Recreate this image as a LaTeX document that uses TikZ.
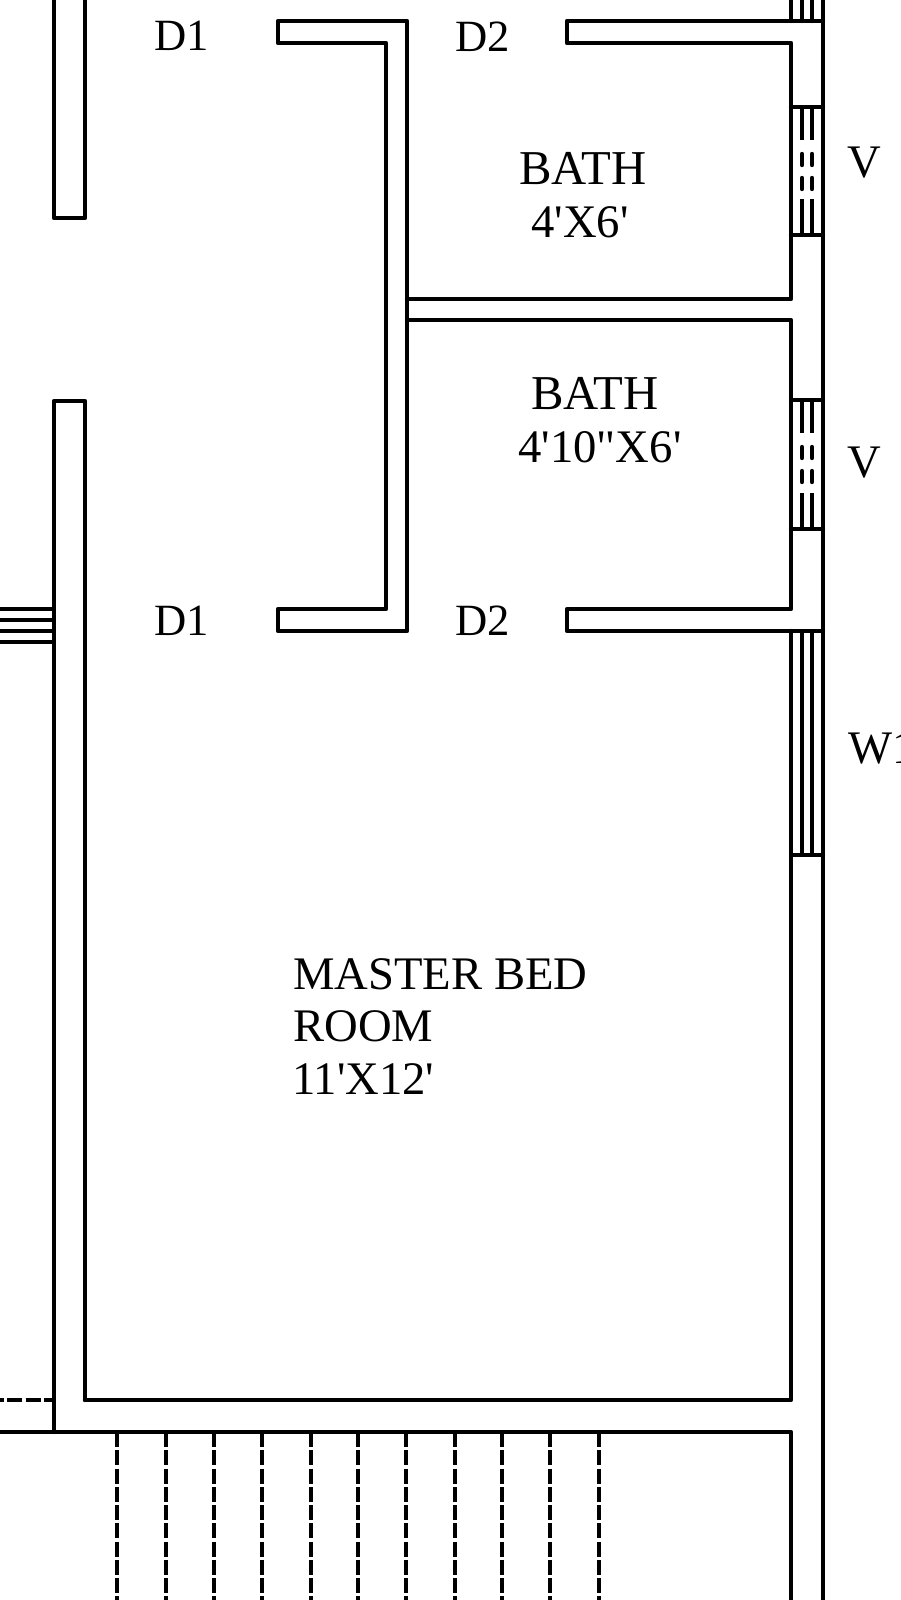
\documentclass[tikz,border=0pt]{standalone}
\usepackage{fontspec}
\setmainfont{Liberation Serif}[Ligatures=TeXOff]
\tikzset{
  wall/.style={line width=3.3pt,line join=round,line cap=round,black},
  thin wall/.style={line width=3.3pt,line cap=butt,black},
  stairline/.style={line width=3.3pt,black,dash pattern=on 11.3pt off 2.4pt},
  vdash/.style={line width=3.3pt,line cap=round,black},
  label/.style={anchor=base,inner sep=0pt,font=\fontsize{35pt}{35pt}\selectfont},
  doorlabel/.style={label,font=\fontsize{33.5pt}{35pt}\selectfont},
  bathlabel/.style={label,font=\fontsize{36.5pt}{35pt}\selectfont},
  leftlabel/.style={label,anchor=base west}
}
\begin{document}
\begin{tikzpicture}[x=0.75pt,y=-0.75pt]
\useasboundingbox (0,0) rectangle (900,1600);
\clip (0,0) rectangle (900,1600);
\fill[white] (0,0) rectangle (900,1600);
% left wall
\draw[wall] (54,-5) -- (54,218) -- (85,218) -- (85,-5);
\draw[wall] (85,1400) -- (85,401) -- (54,401) -- (54,1432);
\draw[wall] (-5,1432) -- (791,1432) -- (791,1605);
\draw[wall] (85,1400) -- (791,1400) -- (791,855);
% outer right wall
\draw[wall] (823,-5) -- (823,1605);
% centre wall
\draw[wall] (278,21) -- (407,21) -- (407,631) -- (278,631) -- (278,609) -- (386,609) -- (386,43) -- (278,43) -- cycle;
% D2 top and divider
\draw[wall] (823,21) -- (567,21) -- (567,43) -- (791,43) -- (791,299) -- (407,299);
\draw[wall] (407,320) -- (791,320) -- (791,609) -- (567,609) -- (567,631) -- (823,631);
% windows
\draw[wall] (791,-5) -- (791,21) (802,-5) -- (802,21) (812,-5) -- (812,21);
\foreach \t/\b in {107/235,400/529}{
  \draw[wall] (791,\t) -- (823,\t) (791,\b) -- (823,\b);
  \foreach \x in {802,812}{
    \draw[thin wall] (\x,\t) -- (\x,\t+33);
    \draw[vdash] (\x,\t+47) -- (\x,\t+58);
    \draw[vdash] (\x,\t+71) -- (\x,\t+82);
    \draw[thin wall] (\x,\b-36) -- (\x,\b);
  }
}
% W1
\draw[wall] (791,631) -- (791,855) -- (823,855);
\draw[thin wall] (802,631) -- (802,855) (812,631) -- (812,855);
% left stubs
\foreach \y in {609,620,631,642}{\draw[thin wall] (-5,\y) -- (54,\y);}
% dashed
\draw[stairline] (-11,1400) -- (53,1400);
\foreach \x in {117,166,214,262,311,358,406,455,502,550,599}{\draw[stairline] (\x,1432) -- (\x,1605);}
% labels
\node[doorlabel] (d1a) at (182,50) {D1};
\node[doorlabel] (d2a) at (483,51) {D2};
\node[doorlabel] (d1b) at (182,635) {D1};
\node[doorlabel] (d2b) at (483,635) {D2};
\node[bathlabel] (bath1) at (583,184) {BATH};
\node[label] (bsize1) at (580,237) {4'X6'};
\node[bathlabel] (bath2) at (595,409) {BATH};
\node[label] (bsize2) at (600,462) {4'10"X6'};
\node[leftlabel] (mb1) at (293,989) {MASTER BED};
\node[leftlabel] (mb2) at (293,1041) {ROOM};
\node[leftlabel] (mb3) at (292,1094) {11'X12'};
\node[label] (v1) at (864,177) {V};
\node[label] (v2) at (864,477) {V};
\node[leftlabel] (w1) at (848,763) {W1};
\end{tikzpicture}
\end{document}
